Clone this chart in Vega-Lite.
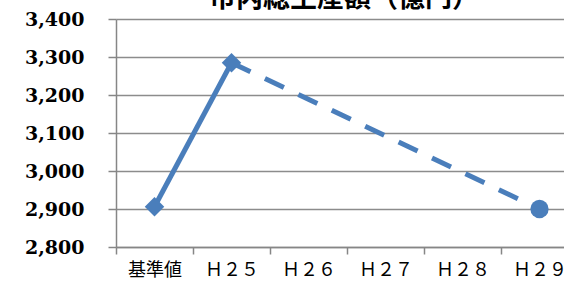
{
  "$schema": "https://vega.github.io/schema/vega-lite/v6.json",
  "width": 448,
  "height": 228,
  "autosize": {"type": "none"},
  "padding": {"left": 116, "top": 19, "right": 0, "bottom": 42},
  "background": "white",
  "config": {"view": {"stroke": null}},
  "title": {
    "text": "市内総生産額（億円）",
    "font": "Noto Sans CJK JP",
    "fontSize": 27,
    "fontWeight": "bold",
    "color": "#000000",
    "anchor": "middle",
    "frame": "group",
    "baseline": "alphabetic",
    "offset": -24,
    "dx": 4
  },
  "data": {
    "values": [
      {"cat": "基準値", "value": 2906},
      {"cat": "Ｈ２５", "value": 3285},
      {"cat": "Ｈ２９", "value": 2900}
    ]
  },
  "encoding": {
    "x": {
      "field": "cat",
      "type": "nominal",
      "sort": null,
      "scale": {
        "type": "band",
        "domain": ["基準値", "Ｈ２５", "Ｈ２６", "Ｈ２７", "Ｈ２８", "Ｈ２９"],
        "range": [0, 462],
        "paddingInner": 0,
        "paddingOuter": 0
      },
      "axis": {
        "title": null,
        "labelAngle": 0,
        "labelFont": "Noto Sans CJK JP",
        "labelFontSize": 18,
        "labelColor": "#000000",
        "labelPadding": 7,
        "tickBand": "extent",
        "tickSize": 7,
        "tickColor": "#868686",
        "tickWidth": 1.5,
        "domainColor": "#868686",
        "domainWidth": 1.5,
        "grid": false
      }
    },
    "y": {
      "field": "value",
      "type": "quantitative",
      "scale": {"domain": [2800, 3400], "nice": false, "zero": false},
      "axis": {
        "title": null,
        "values": [2800, 2900, 3000, 3100, 3200, 3300, 3400],
        "format": ",.0f",
        "labelFont": "DejaVu Serif",
        "labelFontWeight": "bold",
        "labelFontSize": 19,
        "labelColor": "#000000",
        "labelPadding": 24,
        "tickSize": 8,
        "tickColor": "#868686",
        "tickWidth": 1.5,
        "domainColor": "#868686",
        "domainWidth": 1.5,
        "grid": true,
        "gridColor": "#8c8c8c",
        "gridWidth": 1.3
      }
    }
  },
  "layer": [
    {
      "transform": [{"filter": {"field": "cat", "oneOf": ["基準値", "Ｈ２５"]}}],
      "mark": {"type": "line", "color": "#4a7ebb", "strokeWidth": 5}
    },
    {
      "transform": [{"filter": {"field": "cat", "oneOf": ["Ｈ２５", "Ｈ２９"]}}],
      "mark": {"type": "line", "color": "#4a7ebb", "strokeWidth": 5, "strokeDash": [21, 16]}
    },
    {
      "transform": [{"filter": {"field": "cat", "oneOf": ["基準値", "Ｈ２５"]}}],
      "mark": {"type": "point", "shape": "diamond", "filled": true, "color": "#4a7ebb", "size": 380, "opacity": 1}
    },
    {
      "transform": [{"filter": {"field": "cat", "equal": "Ｈ２９"}}],
      "mark": {"type": "point", "shape": "circle", "filled": true, "color": "#4a7ebb", "size": 335, "opacity": 1}
    }
  ]
}
